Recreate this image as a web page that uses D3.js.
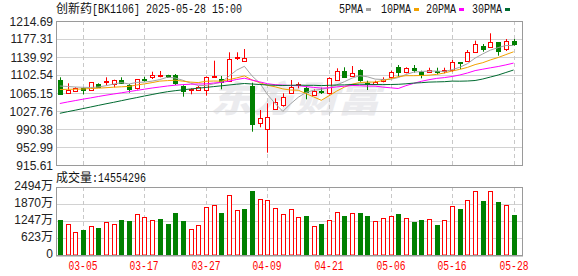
<!DOCTYPE html>
<html>
<head>
<meta charset="utf-8">
<script src="https://cdn.jsdelivr.net/npm/d3@7"></script>
<style>
  body { margin: 0; background: #fff; }
  svg { display: block; }
</style>
</head>
<body>
<div id="chart"></div>
<script>
// trading days shown in the window
var dates = ["02-28","03-03","03-04","03-05","03-06","03-07","03-10","03-11","03-12","03-13",
  "03-14","03-17","03-18","03-19","03-20","03-21","03-24","03-25","03-26","03-27",
  "03-28","03-31","04-01","04-02","04-03","04-07","04-08","04-09","04-10","04-11",
  "04-14","04-15","04-16","04-17","04-18","04-21","04-22","04-23","04-24","04-25",
  "04-28","04-29","04-30","05-06","05-07","05-08","05-09","05-12","05-13","05-14",
  "05-15","05-16","05-19","05-20","05-21","05-22","05-23","05-26","05-27","05-28"];

var open = [1092.15,1065.77,1069.93,1074.91,1071.38,1083.84,1087.99,1083.22,1092.15,1081.76,
  1074.91,1094.22,1097.76,1100.46,1102.53,1102.53,1079.69,1069.93,1069.93,1071.38,
  1099.83,1094.22,1088.62,1137.22,1131.61,1079.69,1004.30,991.83,1033.37,1038.77,
  1065.77,1080.31,1074.91,1060.99,1068.68,1064.53,1093.60,1111.46,1101.08,1112.92,
  1085.29,1083.22,1090.69,1099.00,1119.77,1107.31,1116.45,1109.39,1109.39,1111.46,
  1110.84,1112.92,1128.91,1132.23,1150.92,1162.76,1159.23,1170.45,1156.53,1173.15];
var high = [1097.76,1085.29,1076.99,1076.99,1088.00,1085.29,1097.76,1092.80,1097.76,1083.84,
  1094.20,1099.00,1109.39,1110.84,1103.00,1104.61,1081.14,1074.91,1079.69,1099.60,
  1132.23,1100.46,1149.68,1149.68,1156.53,1086.54,1029.84,1043.76,1054.14,1064.53,
  1092.15,1087.37,1078.23,1072.83,1076.16,1097.76,1116.45,1118.52,1121.22,1114.37,
  1090.69,1090.69,1097.76,1111.46,1123.30,1118.52,1123.30,1111.46,1117.69,1117.69,
  1117.69,1133.69,1129.50,1154.45,1173.77,1166.92,1189.14,1171.00,1177.30,1177.30];
var low = [1061.62,1064.53,1067.23,1062.45,1069.93,1076.00,1081.76,1076.99,1085.29,1065.77,
  1072.20,1088.62,1094.22,1097.76,1097.20,1081.76,1057.46,1062.45,1069.30,1059.54,
  1097.76,1072.83,1088.00,1133.68,1131.00,984.77,993.91,941.16,1032.80,1036.69,
  1064.53,1074.91,1052.06,1059.54,1063.07,1062.45,1092.15,1097.76,1099.00,1088.62,
  1071.38,1081.76,1087.30,1097.76,1099.00,1106.06,1107.31,1095.68,1108.14,1103.99,
  1106.06,1109.39,1114.99,1131.61,1149.68,1150.92,1158.60,1142.62,1152.38,1163.39];
var close = [1063.07,1071.38,1075.53,1069.93,1087.37,1076.99,1090.69,1092.15,1086.54,1072.83,
  1093.60,1093.60,1102.53,1102.53,1097.76,1085.29,1069.93,1072.83,1076.99,1099.00,
  1101.08,1088.62,1135.14,1139.29,1138.46,1000.76,1013.85,1015.93,1047.08,1056.22,
  1078.23,1083.22,1065.77,1069.93,1067.23,1095.68,1111.46,1099.00,1107.31,1092.15,
  1083.84,1087.99,1094.85,1109.39,1109.39,1116.45,1111.46,1102.53,1112.92,1109.39,
  1112.92,1130.16,1126.83,1150.92,1166.92,1156.53,1170.45,1152.38,1173.15,1166.29];

// volume in 万
var volume = [1285,1139,837,921,1067,994,1212,1139,1285,1249,
  1503,1394,1274,1321,1150,1540,1249,946,1103,1758,
  1831,1540,2195,1649,1685,2341,2049,2013,1722,1503,
  1674,1383,1431,1067,1139,1274,1565,1431,1529,1540,
  1431,1238,1347,1420,1503,1347,1212,1285,1310,1103,
  1274,1784,1685,2002,2330,1977,2330,1940,1831,1455.43];
// 1 = red (up) bar, 0 = green bar
var volumeUp = [0,1,1,0,1,0,1,1,0,0, 1,1,1,0,0,0,0,1,1,1, 1,0,1,1,0,0,1,1,1,1,
  1,1,0,1,0,1,1,0,1,0, 0,1,1,1,0,1,0,0,1,0, 1,1,0,1,1,0,1,0,1,0];

var ma5 = [1079.69,1078.65,1077.61,1076.99,1076.57,1077.61,1080.31,1083.63,1086.75,1083.84,
  1087.16,1087.79,1089.86,1092.98,1097.96,1096.30,1091.52,1085.71,1080.52,1080.73,
  1084.05,1087.79,1100.25,1112.71,1120.60,1100.46,1085.71,1061.83,1043.34,1026.93,
  1042.51,1056.22,1066.19,1070.76,1072.83,1076.36,1081.97,1088.62,1096.09,1101.08,
  1098.79,1094.02,1093.19,1093.60,1097.13,1103.57,1108.35,1109.80,1110.63,1110.63,
  1109.80,1113.54,1118.52,1126.00,1137.63,1146.35,1154.25,1159.44,1163.80,1163.80];
var ma10 = [1072.42,1072.83,1073.04,1073.46,1074.49,1075.12,1076.16,1077.19,1078.03,1078.86,
  1081.76,1084.05,1086.75,1089.86,1090.90,1091.73,1089.66,1087.79,1086.75,1089.45,
  1090.07,1089.66,1092.98,1096.51,1100.66,1092.15,1086.75,1080.93,1078.03,1073.66,
  1071.38,1070.96,1063.90,1057.05,1049.99,1059.33,1069.09,1077.40,1083.43,1086.96,
  1087.58,1087.99,1090.90,1094.85,1099.00,1101.08,1101.08,1101.49,1102.12,1103.78,
  1106.69,1110.84,1114.16,1118.32,1124.13,1128.08,1133.89,1138.88,1144.90,1150.72];
var ma20 = [1043.34,1046.46,1049.36,1052.27,1054.97,1057.88,1060.58,1063.07,1065.56,1068.06,
  1070.55,1073.04,1075.53,1077.61,1079.69,1081.35,1082.59,1083.43,1083.84,1084.05,
  1085.92,1086.96,1089.86,1093.19,1095.89,1091.94,1088.20,1084.46,1082.39,1081.56,
  1080.73,1080.31,1078.44,1076.78,1075.33,1075.74,1077.82,1079.27,1080.73,1080.31,
  1079.48,1079.48,1077.40,1075.95,1074.49,1080.31,1085.09,1089.45,1092.77,1095.47,
  1097.13,1099.42,1102.53,1106.69,1111.67,1114.58,1117.49,1120.19,1123.51,1127.25];
var ma30 = [1022.99,1026.31,1029.43,1032.75,1036.07,1039.39,1042.72,1045.83,1049.16,1052.48,
  1055.59,1058.92,1062.03,1065.15,1067.85,1069.93,1071.79,1073.46,1075.12,1076.78,
  1078.44,1080.10,1081.76,1083.43,1084.88,1083.84,1082.80,1081.76,1081.14,1080.73,
  1081.14,1081.56,1081.14,1081.14,1080.52,1081.14,1081.76,1081.97,1082.80,1083.43,
  1083.01,1082.80,1082.59,1082.80,1083.22,1084.26,1085.71,1086.54,1087.79,1088.20,
  1088.62,1089.86,1089.66,1090.07,1091.11,1094.22,1098.38,1102.53,1107.72,1112.92];

var priceTicks = [915.61, 952.99, 990.38, 1027.76, 1065.15, 1102.54, 1139.92, 1177.31, 1214.69];
var volumeTicks = [0, 623, 1247, 1870, 2494];
var dateTicks = ["03-05", "03-17", "03-27", "04-09", "04-21", "05-06", "05-16", "05-28"];
var lastVolume = "14554296";

var maSeries = [
  {name: "5PMA", values: ma5, color: "#a3a3a3", lx: 339},
  {name: "10PMA", values: ma10, color: "#f2a100", lx: 381},
  {name: "20PMA", values: ma20, color: "#ff00ff", lx: 426},
  {name: "30PMA", values: ma30, color: "#006a30", lx: 472}
];

var RED = "#ff0000", GREEN = "#008000";
var GRID = "#d2d2d2", FRAME = "#9a9a9a";
var MONO = "'Liberation Mono', 'DejaVu Sans Mono', monospace";
var CJK = "'Noto Sans CJK SC', sans-serif";
var SANS = "'Liberation Sans', Arial, sans-serif";

var width = 578, height = 276;
var left = 56, right = 522;
var priceTop = 21, priceBottom = 165;
var volTop = 187, volBottom = 255;

var svg = d3.select("#chart").append("svg")
  .attr("width", width).attr("height", height);

var x = d3.scaleBand().domain(dates).range([left, 517.4]);
var bw = x.bandwidth();
function cx(d) { return Math.round(x(d) + bw / 2); }

var y = d3.scaleLinear().domain([915.61, 1214.69]).range([priceBottom, priceTop]);
var yv = d3.scaleLinear().domain([0, 2494]).range([volBottom, volTop]);

// watermark
svg.append("text")
  .attr("x", 210).attr("y", 112)
  .attr("textLength", 170).attr("lengthAdjust", "spacingAndGlyphs")
  .style("font-family", CJK).style("font-size", "36px")
  .style("font-weight", 900).style("font-style", "italic")
  .style("fill", "#ebebee")
  .text("东方财富");

// horizontal grid
svg.append("g").selectAll("line")
  .data(priceTicks).enter().append("line")
  .attr("x1", left).attr("x2", right)
  .attr("y1", function(d) { return Math.round(y(d)) + 0.5; })
  .attr("y2", function(d) { return Math.round(y(d)) + 0.5; })
  .style("stroke", GRID);
svg.append("g").selectAll("line")
  .data(volumeTicks).enter().append("line")
  .attr("x1", left).attr("x2", right)
  .attr("y1", function(d) { return Math.round(yv(d)) + 0.5; })
  .attr("y2", function(d) { return Math.round(yv(d)) + 0.5; })
  .style("stroke", GRID);

// vertical dashed grid at the date ticks
[[priceTop, priceBottom], [volTop, volBottom]].forEach(function(r) {
  svg.append("g").selectAll("line")
    .data(dateTicks).enter().append("line")
    .attr("x1", function(d) { return cx(d) + 0.5; })
    .attr("x2", function(d) { return cx(d) + 0.5; })
    .attr("y1", r[0]).attr("y2", r[1])
    .style("stroke", "#c8c8c8")
    .style("stroke-dasharray", "4,3");
});

// candles
var candles = svg.append("g").selectAll("g")
  .data(dates).enter().append("g");

candles.append("line")
  .attr("x1", function(d) { return cx(d) + 0.5; })
  .attr("x2", function(d) { return cx(d) + 0.5; })
  .attr("y1", function(d, i) { return y(high[i]); })
  .attr("y2", function(d, i) { return y(low[i]); })
  .style("stroke", function(d, i) { return close[i] >= open[i] ? RED : GREEN; });

candles.append("rect")
  .attr("x", function(d) { return cx(d) - 2 + 0.5; })
  .attr("width", 4)
  .attr("y", function(d, i) { return Math.round(y(Math.max(open[i], close[i]))) + 0.5; })
  .attr("height", function(d, i) {
    return Math.max(1, Math.round(Math.abs(y(open[i]) - y(close[i]))));
  })
  .style("fill", function(d, i) { return close[i] >= open[i] ? "#fff" : GREEN; })
  .style("stroke", function(d, i) { return close[i] >= open[i] ? RED : GREEN; });

// moving averages
var line = d3.line()
  .x(function(v, i) { return x(dates[i]) + bw / 2; })
  .y(function(v) { return y(v); });
maSeries.forEach(function(s) {
  svg.append("path")
    .attr("d", line(s.values))
    .style("fill", "none")
    .style("stroke", s.color)
    .style("stroke-width", 1);
});

// volume bars
svg.append("g").selectAll("rect")
  .data(dates).enter().append("rect")
  .attr("x", function(d) { return cx(d) - 2 + 0.5; })
  .attr("width", 4)
  .attr("y", function(d, i) { return Math.round(yv(volume[i])) + 0.5; })
  .attr("height", function(d, i) { return volBottom - Math.round(yv(volume[i])) - 0.5; })
  .style("fill", function(d, i) { return volumeUp[i] ? "#fff" : GREEN; })
  .style("stroke", function(d, i) { return volumeUp[i] ? RED : GREEN; });

// frames
[[priceTop, priceBottom], [volTop, volBottom]].forEach(function(r) {
  svg.append("rect")
    .attr("x", left + 0.5).attr("y", r[0] + 0.5)
    .attr("width", right - left).attr("height", r[1] - r[0])
    .style("fill", "none").style("stroke", FRAME);
});
svg.append("line")
  .attr("x1", left).attr("x2", right + 1)
  .attr("y1", volBottom + 1).attr("y2", volBottom + 1)
  .style("stroke", FRAME);

// price axis labels
svg.append("g").selectAll("text")
  .data(priceTicks).enter().append("text")
  .attr("x", 53).attr("y", function(d) { return y(d) + 4.5; })
  .attr("text-anchor", "end")
  .style("font-family", SANS).style("font-size", "12px").style("fill", "#222")
  .text(function(d) { return d.toFixed(2); });

// volume axis labels
var vl = svg.append("g").selectAll("text")
  .data(volumeTicks).enter().append("text")
  .attr("x", 53).attr("y", function(d) { return yv(d) + 3; })
  .attr("text-anchor", "end")
  .style("font-family", SANS).style("font-size", "12px").style("fill", "#222");
vl.append("tspan").text(function(d) { return d; });
vl.append("tspan").style("font-family", CJK)
  .text(function(d) { return d ? "万" : ""; });

// date labels
svg.append("g").selectAll("text")
  .data(dateTicks).enter().append("text")
  .attr("x", function(d) { return cx(d) - 14.5; })
  .attr("y", 270)
  .attr("textLength", 29).attr("lengthAdjust", "spacingAndGlyphs")
  .style("font-family", MONO).style("font-size", "12px").style("fill", RED)
  .text(function(d) { return d; });

// mixed CJK / half-width text helper
function label(xPos, yPos, parts) {
  var t = svg.append("text").attr("x", xPos).attr("y", yPos)
    .style("font-size", "12px").style("fill", "#111");
  var cur = xPos;
  parts.forEach(function(p) {
    var w = p.cjk ? p.s.length * 12 : p.s.length * 6;
    t.append("tspan").attr("x", cur)
      .attr("textLength", w).attr("lengthAdjust", "spacingAndGlyphs")
      .style("font-family", p.cjk ? CJK : MONO)
      .text(p.s);
    cur += w;
  });
  return t;
}

label(56, 13, [{s: "创新药", cjk: true}, {s: "[BK1106] 2025-05-28 15:00"}]);
label(56, 182, [{s: "成交量", cjk: true}, {s: ":" + lastVolume}]);

// legend
maSeries.forEach(function(s) {
  label(s.lx, 13, [{s: s.name}]);
  svg.append("rect")
    .attr("x", s.lx + s.name.length * 6 + 3).attr("y", 8)
    .attr("width", 5).attr("height", 3)
    .style("fill", s.color);
});
</script>
</body>
</html>
